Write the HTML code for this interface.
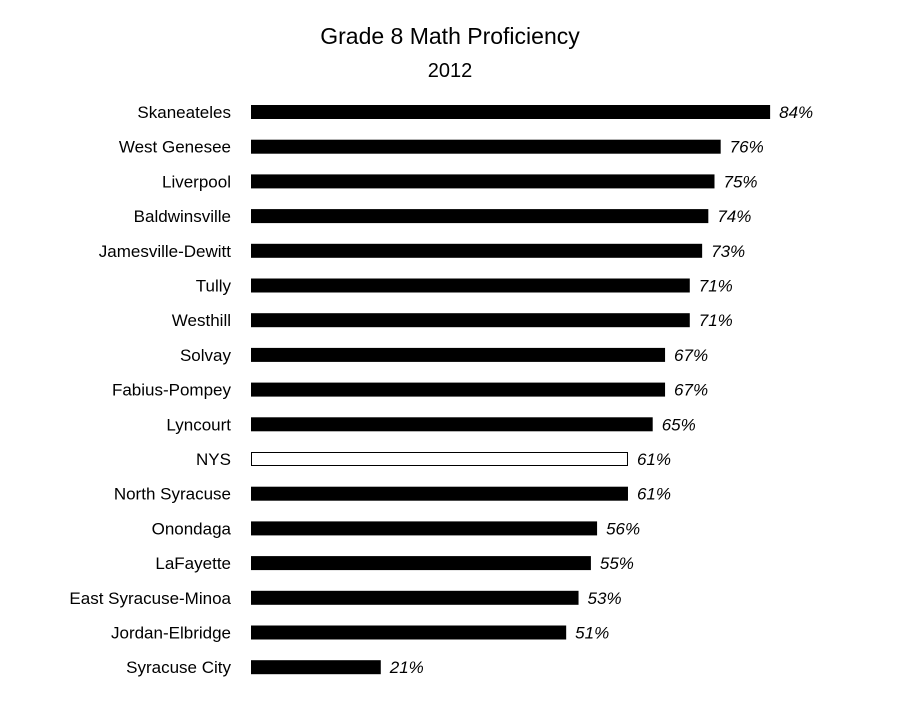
<!DOCTYPE html>
<html>
<head>
<meta charset="utf-8">
<style>
  html, body { margin:0; padding:0; background:#fff; }
  body { width:900px; height:711px; overflow:hidden; }
  svg text { font-family: "Liberation Sans", "DejaVu Sans", sans-serif; fill:#000; }
</style>
</head>
<body>
<svg id="chart" width="900" height="711" viewBox="0 0 900 711" xmlns="http://www.w3.org/2000/svg">
  <text x="450" y="44" text-anchor="middle" font-size="23">Grade 8 Math Proficiency</text>
  <text x="450" y="77" text-anchor="middle" font-size="20">2012</text>
  <g id="bars"></g>
</svg>
<script>
const categories = ["Skaneateles","West Genesee","Liverpool","Baldwinsville","Jamesville-Dewitt","Tully","Westhill","Solvay","Fabius-Pompey","Lyncourt","NYS","North Syracuse","Onondaga","LaFayette","East Syracuse-Minoa","Jordan-Elbridge","Syracuse City"];
const values = [84,76,75,74,73,71,71,67,67,65,61,61,56,55,53,51,21];
const valueLabels = ["84%","76%","75%","74%","73%","71%","71%","67%","67%","65%","61%","61%","56%","55%","53%","51%","21%"];
const highlight = ["NYS"];

const x0 = 251, pxPer = 6.18;
const yTop = 112, step = 34.7, barH = 14;
function xScale(v){ return x0 + v * pxPer; }
function yScale(i){ return yTop + i * step; }

const g = document.getElementById('bars');
const NS = "http://www.w3.org/2000/svg";
categories.forEach((c, i) => {
  const yc = yScale(i);
  const lab = document.createElementNS(NS, 'text');
  
  
  lab.setAttribute('x', 231);
  lab.setAttribute('y', yc + 6);
  lab.setAttribute('text-anchor', 'end');
  lab.setAttribute('font-size', '17');
  lab.textContent = c;
  g.appendChild(lab);

  const isHi = highlight.includes(c);
  const r = document.createElementNS(NS, 'rect');
  
  
  r.setAttribute('x', x0 + (isHi ? 0.5 : 0));
  r.setAttribute('y', yc - barH/2 + (isHi ? 0.5 : 0));
  r.setAttribute('width', xScale(values[i]) - x0 - (isHi ? 1 : 0));
  r.setAttribute('height', barH - (isHi ? 1 : 0));
  r.setAttribute('fill', isHi ? '#fff' : '#000');
  if (isHi) { r.setAttribute('stroke', '#000'); r.setAttribute('stroke-width', '1'); }
  g.appendChild(r);

  const vl = document.createElementNS(NS, 'text');
  
  
  vl.setAttribute('x', xScale(values[i]) + 9);
  vl.setAttribute('y', yc + 6);
  vl.setAttribute('font-size', '17');
  vl.setAttribute('font-style', 'italic');
  vl.textContent = valueLabels[i];
  g.appendChild(vl);
});
</script>
</body>
</html>
